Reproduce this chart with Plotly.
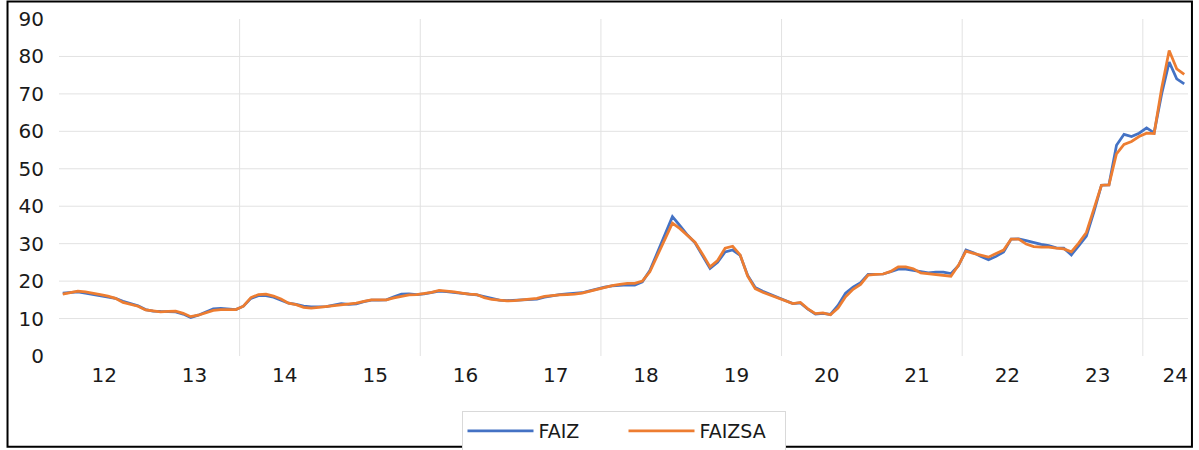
import plotly.graph_objects as go

# ---- data (monthly, Jan 2012 - Jun 2024) ----
year_labels = ["12", "13", "14", "15", "16", "17", "18", "19", "20", "21", "22", "23", "24"]

faiz = [
    16.8, 17.0, 17.1, 16.8, 16.5, 16.1, 15.8, 15.4, 14.6, 14.0, 13.4, 12.4,   # 2012
    12.0, 11.9, 11.9, 11.8, 11.2, 10.3, 10.9, 11.7, 12.6, 12.7, 12.5, 12.4,   # 2013
    13.3, 15.4, 16.1, 16.1, 15.7, 14.9, 14.1, 13.8, 13.3, 13.1, 13.1, 13.2,   # 2014
    13.6, 14.0, 13.8, 13.9, 14.5, 14.9, 14.9, 15.0, 15.8, 16.5, 16.6, 16.4,   # 2015
    16.6, 17.0, 17.3, 17.2, 16.9, 16.7, 16.5, 16.3, 15.8, 15.3, 14.9, 14.8,   # 2016
    14.9, 14.9, 15.1, 15.2, 15.7, 16.1, 16.4, 16.6, 16.7, 16.9, 17.4, 18.0,   # 2017
    18.4, 18.7, 18.9, 19.0, 18.9, 19.8, 22.8, 27.5, 32.5, 37.2, 34.8, 32.3,   # 2018
    30.2, 26.6, 23.4, 25.0, 27.8, 28.3, 26.9, 21.5, 18.3, 17.3, 16.4, 15.5,   # 2019
    14.8, 14.0, 14.2, 12.5, 11.2, 11.4, 11.1, 13.5, 16.8, 18.4, 19.6, 21.8,   # 2020
    21.9, 21.9, 22.5, 23.2, 23.2, 22.9, 22.4, 22.2, 22.4, 22.4, 22.0, 24.1,   # 2021
    28.3, 27.6, 26.6, 25.7, 26.6, 27.8, 31.2, 31.3, 30.8, 30.2, 29.8, 29.5,   # 2022
    28.9, 28.8, 27.0, 29.5, 32.0, 38.5, 45.6, 45.7, 56.3, 59.2, 58.6, 59.5,   # 2023
    60.9, 59.6, 70.0, 78.5, 74.0, 72.7,                                       # 2024
]

faizsa = [
    16.5, 16.9, 17.3, 17.1, 16.8, 16.4, 16.0, 15.4, 14.3, 13.7, 13.3, 12.3,   # 2012
    12.0, 11.8, 11.9, 12.0, 11.4, 10.5, 10.9, 11.5, 12.2, 12.4, 12.4, 12.4,   # 2013
    13.3, 15.6, 16.4, 16.5, 16.0, 15.2, 14.1, 13.7, 13.0, 12.8, 13.0, 13.2,   # 2014
    13.4, 13.8, 14.0, 14.1, 14.6, 15.0, 15.0, 15.0, 15.5, 16.0, 16.3, 16.4,   # 2015
    16.6, 17.0, 17.5, 17.4, 17.1, 16.8, 16.5, 16.4, 15.6, 15.1, 14.8, 14.7,   # 2016
    14.8, 15.0, 15.1, 15.4, 15.9, 16.2, 16.3, 16.4, 16.5, 16.8, 17.3, 18.0,   # 2017
    18.3, 18.8, 19.1, 19.4, 19.4, 20.0, 22.5, 26.8, 31.5, 35.5, 34.0, 32.3,   # 2018
    30.4, 27.2, 23.8, 25.5, 28.8, 29.3, 27.0, 21.3, 18.0, 17.0, 16.2, 15.4,   # 2019
    14.7, 14.0, 14.3, 12.6, 11.3, 11.5, 11.0, 12.8, 15.8, 17.8, 19.1, 21.6,   # 2020
    21.8, 21.9, 22.6, 23.8, 23.8, 23.3, 22.2, 22.0, 21.7, 21.4, 21.3, 24.2,   # 2021
    28.0, 27.4, 26.8, 26.4, 27.4, 28.3, 31.2, 31.2, 29.9, 29.2, 29.1, 29.1,   # 2022
    28.8, 28.6, 27.8, 30.2, 33.0, 39.3, 45.6, 45.7, 54.0, 56.5, 57.3, 58.6,   # 2023
    59.5, 59.4, 71.5, 81.6, 76.7, 75.2,                                       # 2024
]

y_ticks = [0, 10, 20, 30, 40, 50, 60, 70, 80, 90]

# ---- figure ----
idx = list(range(len(faiz)))
fig = go.Figure()
fig.add_trace(go.Scatter(x=idx, y=faiz, mode="lines", name="FAIZ",
                         line=dict(color="#4472C4", width=2.75)))
fig.add_trace(go.Scatter(x=idx, y=faizsa, mode="lines", name="FAIZSA",
                         line=dict(color="#ED7D31", width=2.75)))

n = len(faiz)
label_pos = [12 * k + 5.5 for k in range(len(year_labels) - 1)] + [n - 2.2]

shapes = []
grid_col = "#E2E2E2"
for v in y_ticks[1:-1]:
    shapes.append(dict(type="line", xref="paper", yref="y", x0=0, x1=1, y0=v, y1=v,
                       line=dict(color=grid_col, width=1), layer="below"))
for b in range(24, n, 24):
    shapes.append(dict(type="line", xref="x", yref="y", x0=b - 0.5, x1=b - 0.5,
                       y0=y_ticks[0], y1=y_ticks[-1],
                       line=dict(color=grid_col, width=1), layer="below"))
# outer frame
shapes.append(dict(type="rect", xref="paper", yref="paper",
                   x0=-0.0456, x1=1.0035, y0=-0.2696, y1=1.0519,
                   line=dict(color="#000000", width=2), fillcolor="rgba(0,0,0,0)"))

fig.update_layout(
    width=1199, height=450,
    margin=dict(l=58.5, r=11, t=18.5, b=94, autoexpand=False),
    paper_bgcolor="white", plot_bgcolor="white",
    font=dict(family="DejaVu Sans", color="#1a1a1a"),
    showlegend=True,
    legend=dict(orientation="h", x=0.5, xanchor="center", y=-0.163, yanchor="top",
                bordercolor="#D9D9D9", borderwidth=1, font=dict(size=19),
                itemwidth=66, entrywidth=80, bgcolor="white"),
    shapes=shapes,
    xaxis=dict(range=[-0.5, n - 0.5], tickmode="array", tickvals=label_pos,
               ticktext=year_labels, showgrid=False, zeroline=False, showline=False,
               ticks="", tickfont=dict(size=20), ticklabelstandoff=5, automargin=False),
    yaxis=dict(range=[0, 90], tickmode="array", tickvals=y_ticks,
               showgrid=False, zeroline=False, showline=False, ticks="",
               tickfont=dict(size=20), ticklabelstandoff=14, automargin=False),
)

fig.write_html("out.html", config={"displayModeBar": False},
               post_script="document.body.style.margin='0';document.body.style.overflow='hidden';")
